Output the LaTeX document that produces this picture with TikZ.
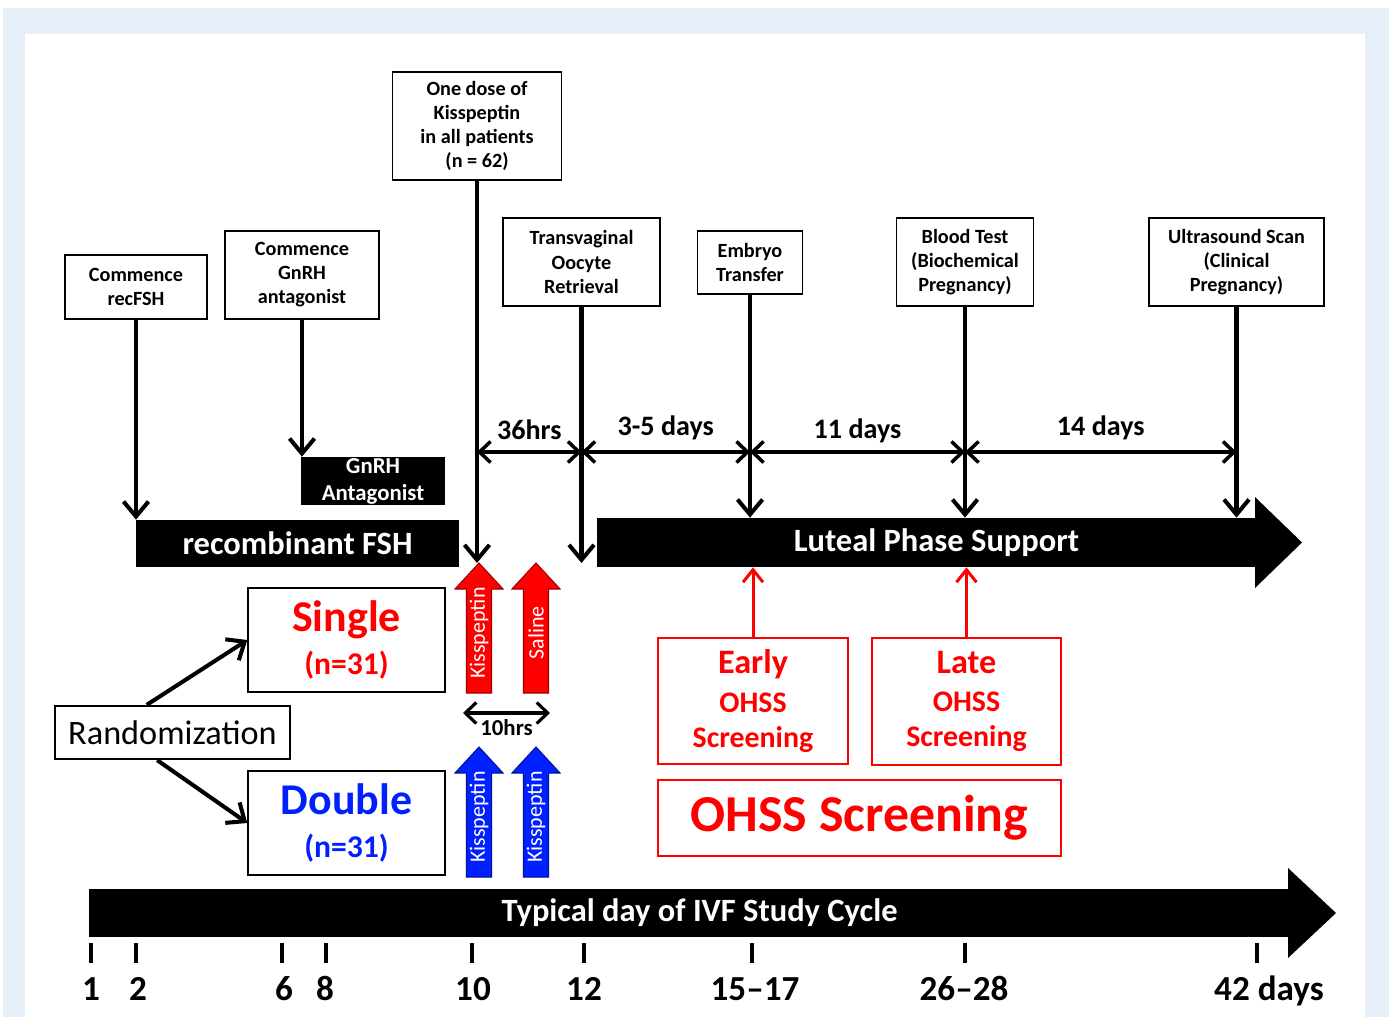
\documentclass[tikz,border=0pt]{standalone}
\usepackage{fontspec}
\setmainfont{Carlito}
\usetikzlibrary{arrows.meta,positioning,shapes}

\definecolor{panelblue}{RGB}{230,238,248}
\definecolor{kred}{RGB}{255,0,0}
\definecolor{kblue}{RGB}{0,32,255}

\begin{document}
\begin{tikzpicture}[x=0.02cm,y=-0.02cm,
    note/.style={rectangle,draw,line width=0.8pt,inner sep=0pt,align=center,font=\fontsize{11.5}{13.7}\selectfont\bfseries},
    bar/.style={rectangle,fill=black,text=white,inner sep=0pt,align=center,font=\fontsize{18.5}{22}\selectfont\bfseries},
    arm/.style={rectangle,draw,line width=0.8pt,inner sep=0pt,align=center,font=\fontsize{18}{24.5}\selectfont\bfseries},
    screen/.style={rectangle,draw=kred,line width=1pt,inner sep=0pt,align=center,text=kred},
    down/.style={line width=2.3pt,-{Straight Barb[length=0.3cm,width=0.5cm]}},
    span/.style={line width=2pt,{Straight Barb[length=0.22cm,width=0.42cm]}-{Straight Barb[length=0.22cm,width=0.42cm]}},
    upred/.style={line width=1.7pt,kred,-{Straight Barb[length=0.25cm,width=0.4cm]}},
    gap/.style={font=\fontsize{16}{18}\selectfont\bfseries,inner sep=0pt},
    tick/.style={line width=2.4pt},
    day/.style={font=\fontsize{20}{22}\selectfont\bfseries,inner sep=0pt,anchor=base}
]
    % Frame
    \fill[white] (0,0) rectangle (1389,1017);
    \fill[panelblue] (3,8) rectangle (1389,1017);
    \fill[white] (25,34) rectangle (1365,1017);
    \useasboundingbox (0,0) rectangle (1389,1017);

    % Events along the cycle
    \node[note,minimum width=2.84cm,minimum height=1.28cm] (cfsh) at (136,287) {Commence\\recFSH};
    \node[note,minimum width=3.08cm,minimum height=1.76cm] (cgnrh) at (302,275) {Commence\\GnRH\\antagonist};
    \node[note,minimum width=3.38cm,minimum height=2.16cm] (dose) at (477,126) {One dose of\\Kisspeptin\\in all patients\\(n = 62)};
    \node[note,minimum width=3.14cm,minimum height=1.76cm] (tvor) at (581.5,262) {Transvaginal\\Oocyte\\Retrieval};
    \node[note,minimum width=2.1cm,minimum height=1.26cm] (embryo) at (750,262.5) {Embryo\\Transfer};
    \node[note,minimum width=2.74cm,minimum height=1.76cm] (blood) at (965,262) {Blood Test\\(Biochemical\\Pregnancy)};
    \node[note,minimum width=3.5cm,minimum height=1.76cm] (ultra) at (1236.5,262) {Ultrasound Scan\\(Clinical\\Pregnancy)};

    % Treatment bars
    \node[bar,font=\fontsize{13}{15.4}\selectfont\bfseries,minimum width=2.88cm,minimum height=0.96cm] (gnrh) at (373,481) {GnRH\\Antagonist};
    \node[bar,minimum width=6.46cm,minimum height=0.94cm] (fsh) at (297.5,543.5) {recombinant FSH};
    \node[bar,minimum width=13.18cm,minimum height=0.98cm] (luteal) at (926.5,542.5) {\hspace{0.4cm}Luteal Phase Support};
    \fill (1255,497) -- (1302,542.5) -- (1255,588) -- cycle;

    % Kisspeptin / saline doses
    \foreach \x/\y/\c/\t [count=\i] in {479/563/kred/Kisspeptin, 536/563/kred/Saline, 479/747/kblue/Kisspeptin, 536/747/kblue/Kisspeptin} {
        \filldraw[fill=\c,draw=\c!60!black,line width=0.6pt] (\x-12.5,\y+130) -- (\x-12.5,\y+26) -- (\x-24,\y+26) -- (\x,\y) -- (\x+24,\y+26) -- (\x+12.5,\y+26) -- (\x+12.5,\y+130) -- cycle;
        \coordinate (tip\i) at (\x,\y);
        \node[rotate=90,text=white,font=\fontsize{12.5}{14}\selectfont,inner sep=0pt] (dose\i) at (\x,\y+70) {\t};
    }
    \coordinate (h0) at (463,713);
    \coordinate (h1) at (550,713);
    \draw[span,line width=1.8pt] (h0) -- (h1) node[midway,below=3pt,inner sep=0pt,font=\fontsize{13}{15}\selectfont\bfseries] {10hrs};

    % Arrows from events
    \draw[down] (cfsh.south) -- (cfsh.south |- fsh.north);
    \draw[down] (cgnrh.south) -- (cgnrh.south |- gnrh.north);
    \draw[down] (dose.south) -- (dose.south |- tip1);
    \draw[down] (tvor.south) -- (tvor.south |- tip1);
    \draw[down] (embryo.south) -- (embryo.south |- luteal.north);
    \draw[down] (blood.south) -- (blood.south |- luteal.north);
    \draw[down] (ultra.south) -- (ultra.south |- luteal.north);

    % Intervals
    \coordinate (lvl) at (0,452);
    \draw[span] (dose.south |- lvl) -- (tvor.south |- lvl) node[gap,midway,above=6pt] {36hrs};
    \draw[span] (tvor.south |- lvl) -- (embryo.south |- lvl) node[gap,midway,above=6pt] {3-5 days};
    \draw[span] (embryo.south |- lvl) -- (blood.south |- lvl) node[gap,midway,above=4pt] {11 days};
    \draw[span] (blood.south |- lvl) -- (ultra.south |- lvl) node[gap,midway,above=6pt] {14 days};

    % Randomization
    \node[rectangle,draw,line width=1.3pt,minimum width=4.7cm,minimum height=1.06cm,font=\fontsize{19.5}{22}\selectfont] (rand) at (172.5,732.5) {Randomization};
    \node[arm,text=kred,minimum width=3.94cm,minimum height=2.08cm] (single) at (346.5,640) {{\fontsize{25}{28}\selectfont Single}\\(n=31)};
    \node[arm,text=kblue,minimum width=3.94cm,minimum height=2.08cm] (double) at (346.5,823) {{\fontsize{25}{28}\selectfont Double}\\(n=31)};
    \draw[down] (rand.133) -- (single.west);
    \draw[down] (rand.241) -- (double.west);

    % OHSS screening
    \node[screen,minimum width=3.8cm,minimum height=2.52cm,font=\fontsize{17}{20}\selectfont\bfseries] (early) at (753,701) {{\fontsize{19.5}{22}\selectfont Early}\\[2pt]OHSS\\Screening};
    \node[screen,minimum width=3.78cm,minimum height=2.54cm,font=\fontsize{17}{20}\selectfont\bfseries] (late) at (966.5,701.5) {{\fontsize{19.5}{22}\selectfont Late}\\[2pt]OHSS\\Screening};
    \node[screen,minimum width=8.06cm,minimum height=1.52cm,font=\fontsize{29.5}{32}\selectfont\bfseries] (ohss) at (859.5,818) {OHSS Screening};
    \draw[upred] (early.north) -- (early.north |- luteal.south);
    \draw[upred] (late.north) -- (late.north |- luteal.south);

    % Time line
    \node[bar,minimum width=24.02cm,minimum height=0.96cm] (cycle) at (689.5,913) {\hspace{0.4cm}Typical day of IVF Study Cycle};
    \fill (1288,868) -- (1336,913) -- (1288,958) -- cycle;
    \foreach \x/\lx/\d [count=\i] in {91/91/1, 136/138/2, 282/284/6, 326/325/8, 472/473/10, 584/584/12, 752/755/15--17, 965/964/26--28, 1257/1269/42 days} {
        \draw[tick] (\x,943) -- (\x,963);
        \node[day] (day\i) at (\lx,1000) {\d};
    }
\end{tikzpicture}
\end{document}
